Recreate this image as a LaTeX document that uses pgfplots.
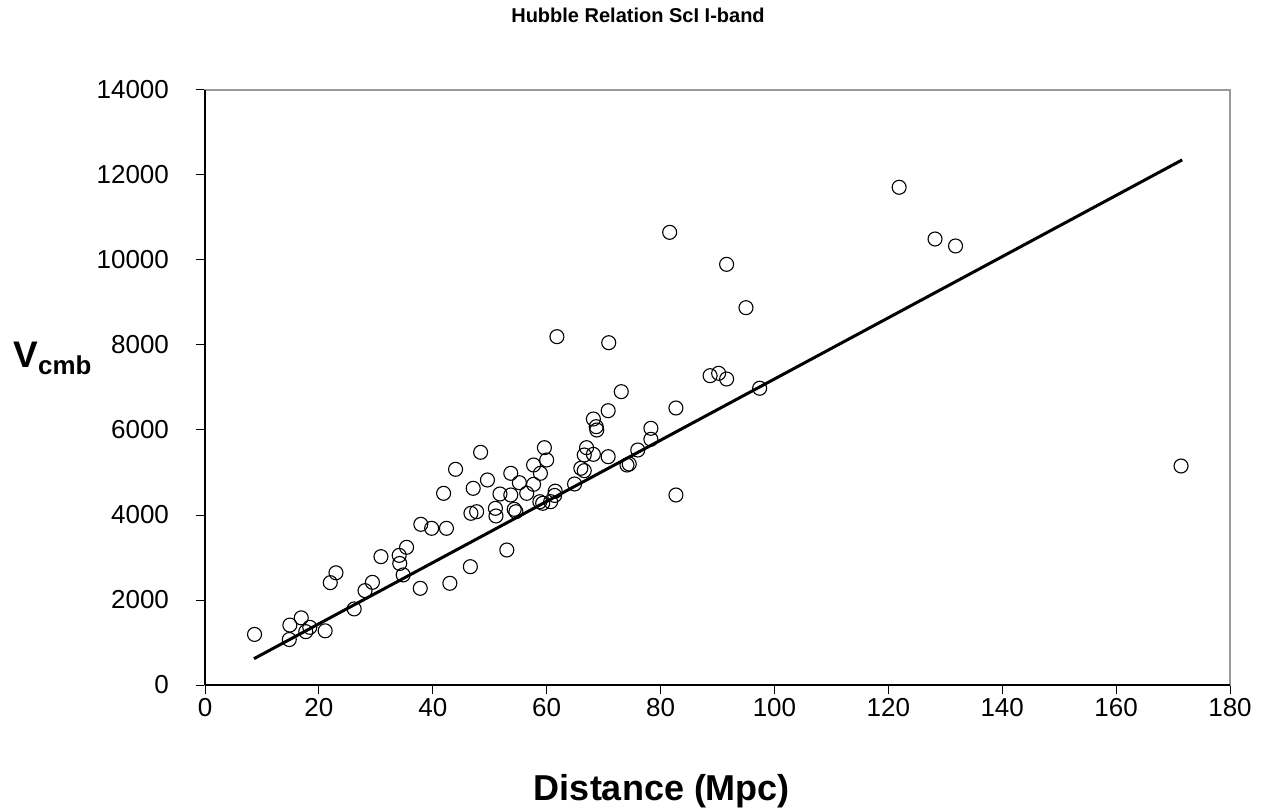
\documentclass[border=0pt]{standalone}
\usepackage{fontspec}
\setmainfont{Liberation Sans}
\usepackage{pgfplots}
\pgfplotsset{compat=1.18}
\begin{document}
\begin{tikzpicture}
\useasboundingbox (-102.5pt,-62pt) rectangle (528.5pt,342.5pt);
\begin{axis}[
  scale only axis,
  width=512.5pt, height=297.5pt,
  xmin=0, xmax=180, ymin=0, ymax=14000,
  xtick={0,20,...,180}, ytick={0,2000,...,14000},
  xtick pos=left, ytick pos=left,
  tick align=outside,
  major tick length=4.5pt,
  tick style={black, line width=0.5pt},
  axis line style={draw=gray!80, line width=0.6pt},
  scaled ticks=false,
  /pgf/number format/assume math mode=true,
  /pgf/number format/1000 sep={},
  ticklabel style={font=\fontsize{13pt}{15pt}\selectfont},
  yticklabel style={xshift=-10pt},
  xticklabel style={yshift=1.5pt},
  clip=false,
]
\draw[black, line width=0.6pt] (rel axis cs:0,0) -- (rel axis cs:0,1);
\draw[black, line width=0.6pt] (rel axis cs:0,0) -- (rel axis cs:1,0);
\addplot[only marks, mark=o, mark size=3.5pt, mark options={line width=0.55pt, black}] coordinates {
(8.7,1190) (14.9,1410) (14.8,1070) (16.9,1580) (17.7,1255) (18.4,1357) (21.1,1275)
(22.0,2408) (23.0,2640) (26.2,1790) (28.1,2220) (29.4,2416) (30.9,3020) (34.1,3050)
(34.2,2860) (35.4,3240) (34.8,2590) (37.8,2275) (37.9,3781) (39.8,3687) (42.4,3687)
(41.9,4510) (43.0,2393) (44.0,5075) (46.6,2784) (46.7,4040) (47.7,4078) (47.1,4628)
(48.4,5475) (49.6,4824) (51.0,4157) (51.1,3977) (51.8,4494) (53.0,3177) (53.7,4981)
(53.7,4471) (55.2,4760) (54.3,4134) (54.6,4078) (56.5,4510) (57.7,5176) (57.7,4722)
(58.9,4981) (59.6,5584) (60.0,5294) (58.8,4313) (59.3,4275) (60.7,4313) (61.5,4560)
(61.4,4460) (61.8,8196) (64.9,4730) (66.0,5099) (66.6,5043) (67.0,5584) (66.6,5412)
(68.2,5427) (70.8,5372) (68.2,6259) (68.7,6078) (68.8,6000) (70.8,6454) (73.1,6902)
(70.9,8054) (74.1,5176) (74.5,5200) (76.0,5529) (78.3,5781) (78.3,6040) (81.6,10651)
(82.7,6518) (82.7,4471) (88.7,7278) (90.2,7334) (91.6,7200) (91.6,9898) (95.0,8878)
(97.4,6982) (121.9,11711) (128.2,10494) (131.8,10330) (171.4,5153)
};
\addplot[black, line width=1.5pt] coordinates {(8.6,619) (171.6,12355)};
\end{axis}
\node[font=\fontsize{10pt}{12pt}\selectfont\bfseries] at (216.5pt,335pt) {Hubble Relation ScI I-band};
\node[font=\fontsize{18pt}{22pt}\selectfont\bfseries, anchor=base] at (228.5pt,-57.5pt) {Distance (Mpc)};
\node[font=\fontsize{18.5pt}{22pt}\selectfont\bfseries] at (-76pt,163.5pt) {V\textsubscript{cmb}};
\end{tikzpicture}
\end{document}
